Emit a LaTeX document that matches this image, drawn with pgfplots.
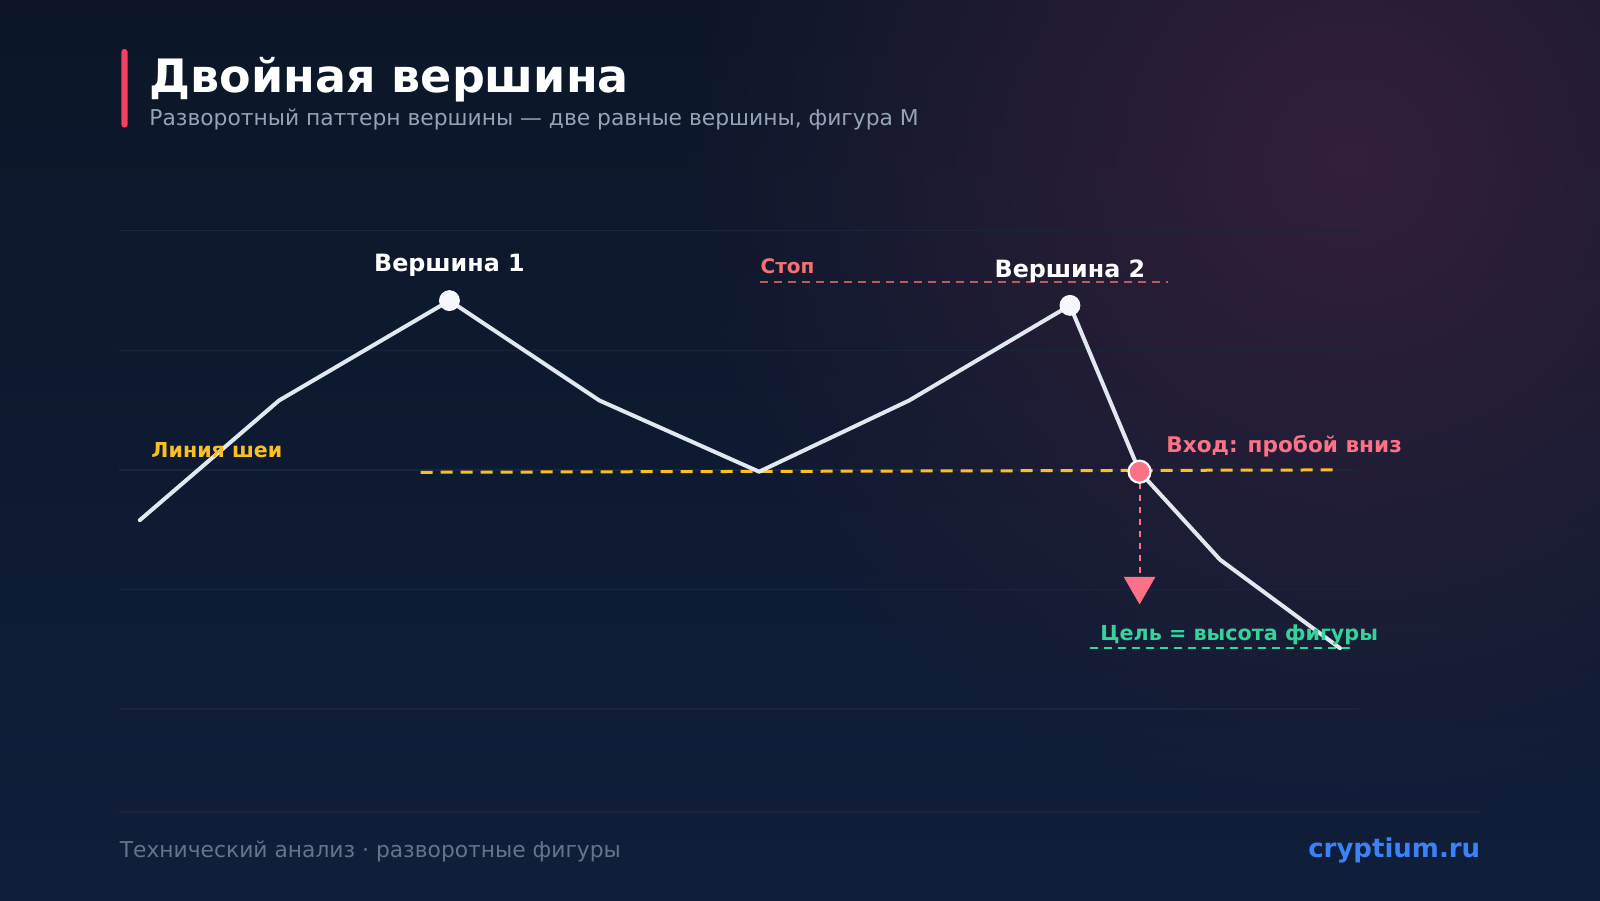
\documentclass[border=0pt]{standalone}
\usepackage{pgfplots}
\pgfplotsset{compat=1.18}
\usetikzlibrary{fadings}
\usepackage{fontspec}
\setmainfont{DejaVu Sans}
\definecolor{bgtop}{HTML}{0C1628}
\definecolor{bgbot}{HTML}{0F1E3A}
\definecolor{glow}{HTML}{33203A}
\definecolor{gridc}{HTML}{1A2539}
\definecolor{linec}{HTML}{E2E8F0}
\definecolor{neck}{HTML}{FBBF24}
\definecolor{stopc}{HTML}{F87171}
\definecolor{pinkc}{HTML}{FB7185}
\definecolor{greenc}{HTML}{34D399}
\definecolor{accent}{HTML}{F43F5E}
\definecolor{subc}{HTML}{94A3B8}
\definecolor{footc}{HTML}{64748B}
\definecolor{brand}{HTML}{3B82F6}
\tikzfading[name=myglow, inner color=transparent!0, outer color=transparent!100]
\begin{document}
\begin{tikzpicture}
\useasboundingbox (0,0) rectangle (800pt,450pt);
\shade[top color=bgtop, bottom color=bgbot] (0,0) rectangle (800pt,450pt);
\begin{scope}
\clip (0,0) rectangle (800pt,450pt);
\fill[glow, path fading=myglow] (675pt,370pt) circle (340pt);
\end{scope}
% header
\fill[accent, rounded corners=1.5pt] (60.7pt,386.2pt) rectangle (63.8pt,425.5pt);
\node[anchor=base west, inner sep=0pt, text=white, font=\fontsize{23}{27}\selectfont\bfseries] at (74.5pt,403.6pt) {Двойная вершина};
\node[anchor=base west, inner sep=0pt, text=subc, font=\fontsize{10.9}{13}\selectfont] at (74.5pt,387.2pt) {Разворотный паттерн вершины — две равные вершины, фигура М};
% footer
\draw[gridc, line width=0.75pt] (59.7pt,44pt) -- (739.8pt,44pt);
\node[anchor=base west, inner sep=0pt, text=footc, font=\fontsize{10.9}{12}\selectfont] at (59.7pt,21.4pt) {Технический анализ · разворотные фигуры};
\node[anchor=base east, inner sep=0pt, text=brand, font=\fontsize{13}{15}\selectfont\bfseries] at (740.3pt,21.2pt) {cryptium.ru};
\begin{axis}[
  at={(59.7pt,95.4pt)}, anchor=south west,
  scale only axis, width=619.9pt, height=239.3pt,
  xmin=-1.7, xmax=101.6, ymin=20, ymax=100,
  axis line style={draw=none},
  xtick=\empty, ytick={20,40,60,80,100}, yticklabels={},
  major tick length=0pt,
  ymajorgrids, grid style={gridc, line width=0.75pt},
  clip=false,
]
% neckline
\addplot[neck, line width=1.5pt, dash pattern=on 6pt off 4pt] coordinates {(23.4,59.6)(100,60.0)};
% stop line
\addplot[stopc!75!bgtop, line width=0.75pt, dash pattern=on 4pt off 3pt] coordinates {(51.7,91.4)(85.7,91.4)};
% target line
\addplot[greenc, line width=0.75pt, dash pattern=on 4pt off 3pt] coordinates {(79.2,30.2)(101.3,30.2)};
% price line
\addplot[linec, line width=2pt, line join=round, line cap=round] coordinates {(0,51.6)(11.6,71.6)(25.8,88.3)(38.3,71.6)(51.6,59.7)(64.1,71.6)(77.5,87.5)(83.3,59.7)(90,45.0)(100,30.2)};
% arrow
\addplot[pinkc, line width=1pt, dash pattern=on 3pt off 3pt] coordinates {(83.3,57.8)(83.3,42.5)};
\addplot[pinkc, only marks, mark=triangle*, mark size=8.8pt, mark options={rotate=180, fill=pinkc, draw=none}] coordinates {(83.3,40.6)};
% markers
\addplot[white, only marks, mark=*, mark size=5pt, mark options={fill=white!97!blue, draw=none}] coordinates {(25.8,88.3)(77.5,87.5)};
\addplot[white, only marks, mark=*, mark size=5.5pt, mark options={fill=pinkc, draw=white, line width=1.1pt}] coordinates {(83.3,59.7)};
% labels
\node[anchor=base, inner sep=0pt, text=white, font=\fontsize{11.9}{14}\selectfont\bfseries] at (axis cs:25.8,93.1) {Вершина 1};
\node[anchor=base, inner sep=0pt, text=white, font=\fontsize{11.9}{14}\selectfont\bfseries] at (axis cs:77.5,92.2) {Вершина 2};
\node[anchor=base west, inner sep=0pt, text=stopc, font=\fontsize{10}{12}\selectfont\bfseries] at (axis cs:51.7,92.9) {Стоп};
\node[anchor=base west, inner sep=0pt, text=neck, font=\fontsize{10.3}{12}\selectfont\bfseries] at (axis cs:0.94,62.0) {Линия шеи};
\node[anchor=base west, inner sep=0pt, text=pinkc, font=\fontsize{10.8}{12}\selectfont\bfseries] at (axis cs:85.5,62.9) {Вход: пробой вниз};
\node[anchor=base west, inner sep=0pt, text=greenc, font=\fontsize{10.35}{12}\selectfont\bfseries] at (axis cs:80.0,31.5) {Цель = высота фигуры};
\end{axis}
\end{tikzpicture}
\end{document}
